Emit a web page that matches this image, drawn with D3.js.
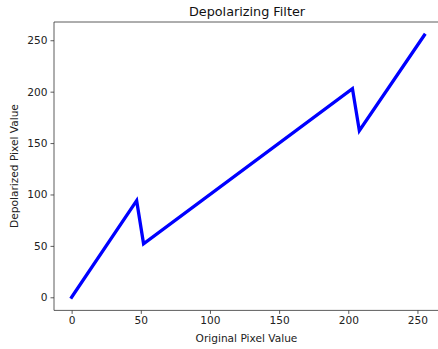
<!DOCTYPE html>
<html>
<head>
<meta charset="utf-8">
<script src="https://cdn.jsdelivr.net/npm/d3@7"></script>
<style>
  body { margin: 0; background: #fff; overflow: hidden; }
  svg { font-family: "DejaVu Sans", sans-serif; display: block; }
</style>
</head>
<body>
<svg id="chart" width="438" height="349"></svg>
<script>
// line points
const inputValues = [0, 47, 52, 203, 208, 255];
const outputValues = [0, 94, 52, 203, 162, 255];
const xTicks = [0, 50, 100, 150, 200, 250];
const yTicks = [0, 50, 100, 150, 200, 250];

const data = inputValues.map((v, i) => ({ x: v, y: outputValues[i] }));

const margin = { top: 22, right: -4, bottom: 38.6, left: 54 };
const width = 438 - margin.left - margin.right;
const height = 349 - margin.top - margin.bottom;

const svg = d3.select("#chart");
const g = svg.append("g")
  .attr("transform", `translate(${margin.left}, ${margin.top})`);

// matplotlib style 5% padding
const pad = 255 * 0.05;
const xScale = d3.scaleLinear().domain([-pad, 255 + pad]).range([0, width]);
const yScale = d3.scaleLinear().domain([-pad, 255 + pad]).range([height, 0]);

const line = d3.line().x(d => xScale(d.x)).y(d => yScale(d.y));

g.append("path")
  .datum(data)
  .attr("fill", "none")
  .attr("stroke", "#0000ff")
  .attr("stroke-width", 3.3)
  .attr("stroke-linejoin", "miter")
  .attr("stroke-linecap", "square")
  .attr("d", line);

// axes
const xAxis = g.append("g")
  .attr("transform", `translate(0, ${height})`)
  .call(d3.axisBottom(xScale).tickValues(xTicks).tickSize(3.5).tickPadding(3).tickSizeOuter(0));
const yAxis = g.append("g")
  .call(d3.axisLeft(yScale).tickValues(yTicks).tickSize(3.5).tickPadding(3).tickSizeOuter(0));

[xAxis, yAxis].forEach(a => {
  a.selectAll("text")
    .attr("font-family", "DejaVu Sans, sans-serif")
    .attr("font-size", "10.6px")
    .attr("fill", "#222");
  a.selectAll("line").attr("stroke", "#333").attr("stroke-width", 0.8);
  a.select(".domain").remove();
});

// spines: top, left, bottom (right one falls off the canvas)
const spines = [
  [0, 0, width, 0],
  [0, 0, 0, height],
  [0, height, width, height]
];
g.selectAll(".spine")
  .data(spines)
  .enter()
  .append("line")
  .attr("class", "spine")
  .attr("x1", d => d[0]).attr("y1", d => d[1])
  .attr("x2", d => d[2]).attr("y2", d => d[3])
  .attr("stroke", "#333")
  .attr("stroke-width", 0.8);

// title and labels
svg.append("text")
  .attr("x", 247).attr("y", 15.5)
  .attr("text-anchor", "middle")
  .attr("font-size", "12.8px")
  .attr("fill", "#111")
  .text("Depolarizing Filter");

svg.append("text")
  .attr("x", 246.5).attr("y", 342)
  .attr("text-anchor", "middle")
  .attr("font-size", "10.6px")
  .attr("fill", "#222")
  .text("Original Pixel Value");

svg.append("text")
  .attr("transform", "translate(18, 166) rotate(-90)")
  .attr("text-anchor", "middle")
  .attr("font-size", "10.6px")
  .attr("fill", "#222")
  .text("Depolarized Pixel Value");
</script>
</body>
</html>
